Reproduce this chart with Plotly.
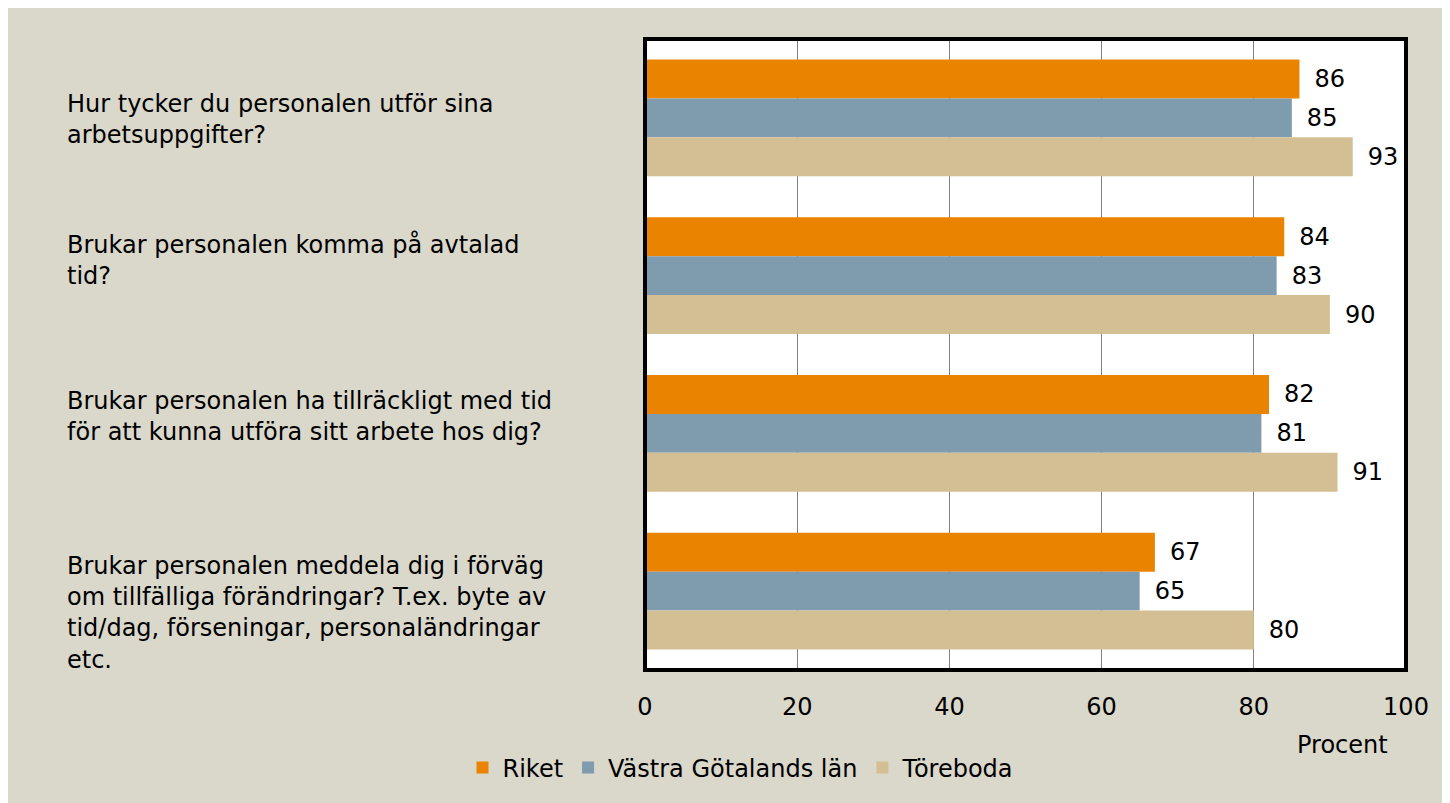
import plotly.graph_objects as go

categories = [
    "Hur tycker du personalen utför sina<br>arbetsuppgifter?",
    "Brukar personalen komma på avtalad<br>tid?",
    "Brukar personalen ha tillräckligt med tid<br>för att kunna utföra sitt arbete hos dig?",
    "Brukar personalen meddela dig i förväg<br>om tillfälliga förändringar? T.ex. byte av<br>tid/dag, förseningar, personaländringar<br>etc.",
]
cat_keys = ["q1", "q2", "q3", "q4"]
series_names = ["Riket", "Västra Götalands län", "Töreboda"]
riket = [86, 84, 82, 67]
vgl = [85, 83, 81, 65]
toreboda = [93, 90, 91, 80]
x_ticks = [0, 20, 40, 60, 80, 100]

colors = ["#E98300", "#7F9BAE", "#D4BF95"]
BG = "#DAD7CB"
FONT = "DejaVu Sans"
FS = 24

fig = go.Figure()
for name, vals, col in zip(series_names, [riket, vgl, toreboda], colors):
    fig.add_trace(go.Bar(
        y=cat_keys, x=vals, name=name, orientation="h",
        marker=dict(color=col, line=dict(width=0)),
        text=vals, texttemplate="\u2002%{x}", textposition="outside",
        textfont=dict(size=FS, color="black", family=FONT),
        constraintext="none", cliponaxis=False,
    ))

OFF = 8  # page body margin
W, H = 1450 - OFF, 803 - OFF
L, R, T, B = 645 - OFF, 1406 - OFF, 38.5 - OFF, 670 - OFF
pw, ph = R - L, B - T

def px_x(sx):
    return (sx - OFF - L) / pw

def px_y(sy):
    return (B - (sy - OFF)) / ph

label_shift = [-1.5, 15.5, 16.5, -21.5]
for key, txt, sh in zip(cat_keys, categories, label_shift):
    fig.add_annotation(
        x=px_x(65), xref="paper", y=key, yref="y", yshift=sh,
        text=txt, showarrow=False, xanchor="left", yanchor="middle",
        align="left", font=dict(size=FS, color="black", family=FONT),
    )

fig.add_annotation(
    x=px_x(1342), xref="paper", y=px_y(745), yref="paper",
    text="Procent", showarrow=False, xanchor="center", yanchor="middle",
    font=dict(size=FS, color="black", family=FONT),
)

fig.add_shape(type="rect", xref="paper", yref="paper",
              x0=0, x1=1, y0=0, y1=1,
              line=dict(color="black", width=4), layer="above")

fig.update_layout(
    width=W, height=H,
    margin=dict(l=L, r=W - R, t=T, b=H - B, pad=0),
    paper_bgcolor=BG, plot_bgcolor="white",
    barmode="group", bargap=0.26, bargroupgap=0,
    font=dict(family=FONT, size=FS, color="black"),
    showlegend=True,
    legend=dict(orientation="h", x=px_x(741), xanchor="center",
                y=px_y(768), yanchor="middle",
                font=dict(size=FS, family=FONT, color="black"),
                bgcolor="rgba(0,0,0,0)", itemwidth=30),
    xaxis=dict(range=[0, 100], tickvals=x_ticks, showgrid=True,
               gridcolor="#808080", gridwidth=1, zeroline=False,
               showline=False, ticks="", ticklabelstandoff=20,
               tickfont=dict(size=FS, family=FONT, color="black")),
    yaxis=dict(autorange="reversed", showticklabels=False, showgrid=False,
               zeroline=False, showline=False, ticks=""),
)

fig.write_html("out.html")
